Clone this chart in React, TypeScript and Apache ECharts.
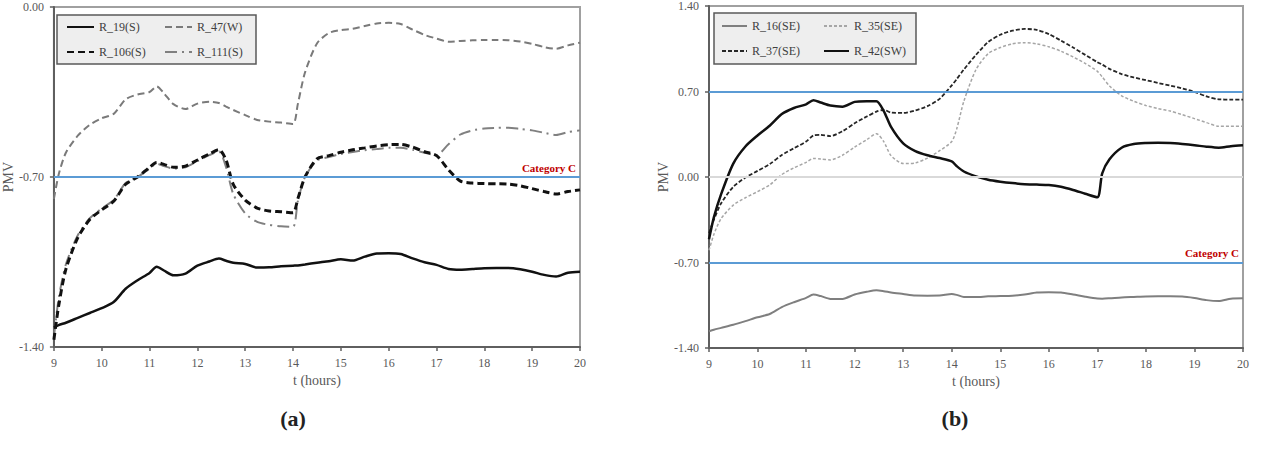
import { useEffect, useRef } from 'react';
import * as echarts from 'echarts';

// ---------- Chart (a) ----------
const hoursA = [9, 9.1, 9.25, 9.5, 9.75, 10, 10.25, 10.5, 10.75, 11, 11.15, 11.3, 11.5, 11.75, 12, 12.25, 12.45, 12.6, 12.75, 13, 13.25, 13.5, 13.75, 14, 14.1, 14.25, 14.5, 14.75, 15, 15.25, 15.5, 15.75, 16, 16.25, 16.5, 16.75, 17, 17.25, 17.5, 17.75, 18, 18.25, 18.5, 18.75, 19, 19.25, 19.5, 19.75, 20];

const r19 = [-1.32, -1.31, -1.30, -1.28, -1.26, -1.24, -1.215, -1.16, -1.125, -1.095, -1.07, -1.085, -1.105, -1.098, -1.065, -1.048, -1.036, -1.045, -1.053, -1.058, -1.073, -1.072, -1.068, -1.065, -1.064, -1.06, -1.053, -1.047, -1.039, -1.044, -1.028, -1.015, -1.014, -1.017, -1.035, -1.051, -1.062, -1.079, -1.082, -1.079, -1.076, -1.075, -1.075, -1.08, -1.09, -1.103, -1.11, -1.094, -1.09];

const r47 = [-0.79, -0.69, -0.60, -0.53, -0.485, -0.458, -0.44, -0.38, -0.36, -0.35, -0.327, -0.355, -0.40, -0.42, -0.398, -0.39, -0.395, -0.41, -0.424, -0.445, -0.465, -0.472, -0.476, -0.482, -0.40, -0.27, -0.15, -0.107, -0.095, -0.09, -0.078, -0.068, -0.065, -0.07, -0.093, -0.115, -0.13, -0.143, -0.14, -0.137, -0.136, -0.136, -0.137, -0.142, -0.152, -0.165, -0.172, -0.158, -0.147];

const r106 = [-1.37, -1.23, -1.08, -0.95, -0.875, -0.835, -0.80, -0.73, -0.70, -0.66, -0.64, -0.648, -0.66, -0.655, -0.63, -0.605, -0.587, -0.63, -0.73, -0.795, -0.828, -0.84, -0.843, -0.847, -0.79, -0.70, -0.625, -0.612, -0.598, -0.588, -0.58, -0.572, -0.567, -0.566, -0.577, -0.596, -0.612, -0.67, -0.717, -0.725, -0.727, -0.728, -0.729, -0.736, -0.748, -0.76, -0.77, -0.76, -0.753];

const r111 = [-1.36, -1.20, -1.06, -0.94, -0.87, -0.83, -0.795, -0.725, -0.70, -0.665, -0.645, -0.655, -0.665, -0.66, -0.635, -0.61, -0.595, -0.66, -0.77, -0.85, -0.885, -0.897, -0.903, -0.905, -0.80, -0.70, -0.632, -0.618, -0.605, -0.597, -0.59, -0.585, -0.58, -0.58, -0.588, -0.60, -0.61, -0.565, -0.525, -0.508, -0.50, -0.498, -0.497, -0.502, -0.508, -0.518, -0.527, -0.515, -0.508];

// ---------- Chart (b) ----------
const hoursB = [9, 9.1, 9.25, 9.5, 9.75, 10, 10.25, 10.5, 10.75, 11, 11.15, 11.3, 11.5, 11.75, 12, 12.25, 12.45, 12.6, 12.75, 13, 13.25, 13.5, 13.75, 14, 14.1, 14.25, 14.5, 14.75, 15, 15.25, 15.5, 15.75, 16, 16.25, 16.5, 16.75, 17, 17.1, 17.25, 17.5, 17.75, 18, 18.25, 18.5, 18.75, 19, 19.25, 19.5, 19.75, 20];

const r16 = [-1.263, -1.25, -1.235, -1.21, -1.18, -1.148, -1.122, -1.065, -1.025, -0.99, -0.963, -0.975, -0.998, -0.998, -0.962, -0.94, -0.928, -0.935, -0.945, -0.958, -0.971, -0.972, -0.971, -0.958, -0.965, -0.982, -0.983, -0.977, -0.975, -0.972, -0.962, -0.946, -0.944, -0.946, -0.962, -0.98, -0.995, -0.996, -0.993, -0.986, -0.982, -0.978, -0.977, -0.977, -0.978, -0.99, -1.008, -1.015, -0.996, -0.993];

const r35 = [-0.60, -0.47, -0.34, -0.23, -0.17, -0.12, -0.065, 0.02, 0.075, 0.12, 0.152, 0.148, 0.14, 0.178, 0.245, 0.305, 0.355, 0.29, 0.175, 0.11, 0.115, 0.155, 0.215, 0.29, 0.39, 0.62, 0.88, 1.01, 1.06, 1.09, 1.10, 1.09, 1.066, 1.03, 0.983, 0.93, 0.865, 0.82, 0.745, 0.665, 0.62, 0.585, 0.56, 0.54, 0.51, 0.478, 0.445, 0.415, 0.415, 0.415];

const r37 = [-0.46, -0.35, -0.215, -0.08, -0.005, 0.05, 0.105, 0.18, 0.235, 0.29, 0.34, 0.345, 0.335, 0.375, 0.44, 0.495, 0.535, 0.55, 0.528, 0.525, 0.545, 0.58, 0.64, 0.75, 0.80, 0.88, 1.0, 1.105, 1.165, 1.198, 1.212, 1.205, 1.17, 1.117, 1.06, 1.0, 0.94, 0.92, 0.885, 0.843, 0.815, 0.793, 0.77, 0.748, 0.725, 0.697, 0.66, 0.636, 0.634, 0.634];

const r42 = [-0.51, -0.33, -0.14, 0.11, 0.25, 0.34, 0.42, 0.515, 0.565, 0.595, 0.628, 0.61, 0.585, 0.576, 0.615, 0.62, 0.62, 0.54, 0.41, 0.275, 0.212, 0.178, 0.155, 0.128, 0.09, 0.045, 0.005, -0.022, -0.038, -0.05, -0.059, -0.062, -0.066, -0.08, -0.106, -0.137, -0.166, 0.03, 0.145, 0.24, 0.27, 0.278, 0.28, 0.278, 0.27, 0.26, 0.248, 0.24, 0.252, 0.26];

// thresholds
const categoryCA = [-0.7];
const categoryCB = [0.7, -0.7];
const zeroLineB = [0];

const FONT = '"Liberation Serif", "Times New Roman", serif';
const BLUE = '#5b9bd5';
const AXIS = '#5f5f5f';
const LABEL = '#595959';

const pairs = (xs: number[], ys: number[]) => xs.map((x, i) => [x, ys[i]]);

const catLabel = {
  show: true,
  position: 'insideEndTop',
  formatter: 'Category C',
  color: '#c00000',
  fontWeight: 'bold',
  fontSize: 11,
  fontFamily: FONT,
  distance: 4,
};

function xAxisFor(gridIndex: number) {
  return {
    type: 'value',
    gridIndex,
    min: 9,
    max: 20,
    interval: 1,
    name: 't (hours)',
    nameLocation: 'middle',
    nameGap: 26,
    nameTextStyle: { color: LABEL, fontSize: 14, fontFamily: FONT },
    axisLine: { show: true, onZero: false, lineStyle: { color: AXIS, width: 2 } },
    axisTick: { show: true, length: 4, lineStyle: { color: AXIS, width: 1.5 } },
    axisLabel: { color: LABEL, fontSize: 12, fontFamily: FONT, margin: 10 },
    splitLine: { show: false },
  };
}

function yAxisFor(gridIndex: number, min: number, max: number) {
  return {
    type: 'value',
    gridIndex,
    min,
    max,
    interval: 0.7,
    name: 'PMV',
    nameLocation: 'middle',
    nameGap: 36,
    nameRotate: 90,
    nameTextStyle: { color: LABEL, fontSize: 14, fontFamily: FONT },
    axisLine: { show: true, onZero: false, lineStyle: { color: AXIS, width: 2 } },
    axisTick: { show: true, length: 4, lineStyle: { color: AXIS, width: 1.5 } },
    axisLabel: {
      color: LABEL,
      fontSize: 12,
      fontFamily: FONT,
      margin: 10,
      formatter: (v: number) => (Math.abs(v) < 1e-9 ? 0 : v).toFixed(2),
    },
    splitLine: { show: false },
  };
}

function line(name: string, data: number[][], axis: number, color: string, width: number, type: any, extra: any = {}) {
  return {
    name,
    type: 'line',
    xAxisIndex: axis,
    yAxisIndex: axis,
    data,
    symbol: 'none',
    smooth: 0.25,
    lineStyle: { color, width, type },
    itemStyle: { color },
    ...extra,
  };
}

const legendText = { color: '#404040', fontSize: 12, fontFamily: FONT };
const legendBase = {
  orient: 'vertical',
  padding: 0,
  itemHeight: 12,
  itemGap: 13,
  textStyle: legendText,
  itemStyle: { opacity: 0 },
};

export default function App() {
  const ref = useRef<HTMLDivElement>(null);

  useEffect(() => {
    const chart = echarts.init(ref.current!, undefined, { renderer: 'svg' });

    const option: any = {
      animation: false,
      backgroundColor: '#ffffff',
      grid: [
        { left: 52, top: 7, width: 528, height: 340, show: true, borderColor: '#a0a0a0', borderWidth: 2, backgroundColor: 'transparent' },
        { left: 709, top: 5, width: 534, height: 343, show: true, borderColor: '#a0a0a0', borderWidth: 2, backgroundColor: 'transparent' },
      ],
      xAxis: [xAxisFor(0), xAxisFor(1)],
      yAxis: [yAxisFor(0, -1.4, 0), yAxisFor(1, -1.4, 1.4)],
      legend: [
        { ...legendBase, data: ['R_19(S)', 'R_106(S)'], left: 66, top: 21, itemWidth: 27 },
        { ...legendBase, data: ['R_47(W)', 'R_111(S)'], left: 164, top: 21, itemWidth: 27 },
        { ...legendBase, data: ['R_16(SE)', 'R_37(SE)'], left: 721, top: 20, itemWidth: 25 },
        { ...legendBase, data: ['R_35(SE)', 'R_42(SW)'], left: 823, top: 20, itemWidth: 25 },
      ],
      graphic: [
        { type: 'rect', z: 1, shape: { x: 57, y: 15, width: 199, height: 49 }, style: { fill: '#eeeeee', stroke: '#595959', lineWidth: 1.5 } },
        { type: 'rect', z: 1, shape: { x: 714, y: 13, width: 202, height: 51 }, style: { fill: '#eeeeee', stroke: '#595959', lineWidth: 1.5 } },
        { type: 'text', z: 5, x: 293, y: 418, style: { text: '(a)', fontSize: 22, fontWeight: 'bold', fontFamily: FONT, fill: '#222222', align: 'center', verticalAlign: 'middle' } },
        { type: 'text', z: 5, x: 955, y: 418, style: { text: '(b)', fontSize: 22, fontWeight: 'bold', fontFamily: FONT, fill: '#222222', align: 'center', verticalAlign: 'middle' } },
      ],
      series: [
        line('R_111(S)', pairs(hoursA, r111), 0, '#808080', 2, [12, 5, 2, 5]),
        line('R_47(W)', pairs(hoursA, r47), 0, '#7a7a7a', 2, [7, 4]),
        line('R_106(S)', pairs(hoursA, r106), 0, '#111111', 3, [7, 4]),
        line('R_19(S)', pairs(hoursA, r19), 0, '#111111', 2.5, 'solid', {
          markLine: {
            silent: true,
            symbol: ['none', 'none'],
            lineStyle: { color: BLUE, width: 2, type: 'solid' },
            label: catLabel,
            data: categoryCA.map((v) => ({ yAxis: v })),
          },
        }),
        line('R_16(SE)', pairs(hoursB, r16), 1, '#7f7f7f', 2, 'solid', {
          markLine: {
            silent: true,
            symbol: ['none', 'none'],
            lineStyle: { color: BLUE, width: 2, type: 'solid' },
            label: catLabel,
            data: [
              ...zeroLineB.map((v) => ({ yAxis: v, lineStyle: { color: '#d9d9d9', width: 2, type: 'solid' }, label: { show: false } })),
              ...categoryCB.map((v) => ({ yAxis: v, label: v > 0 ? { show: false } : catLabel })),
            ],
          },
        }),
        line('R_35(SE)', pairs(hoursB, r35), 1, '#a6a6a6', 1.5, [3, 2]),
        line('R_37(SE)', pairs(hoursB, r37), 1, '#262626', 1.8, [4, 2]),
        line('R_42(SW)', pairs(hoursB, r42), 1, '#111111', 2.5, 'solid'),
      ],
    };

    chart.setOption(option);
    return () => chart.dispose();
  }, []);

  return <div ref={ref} style={{ position: 'absolute', left: 0, top: 0, width: 1267, height: 459 }} />;
}
